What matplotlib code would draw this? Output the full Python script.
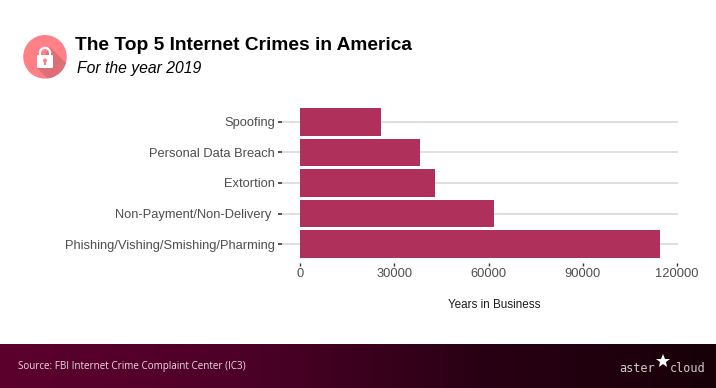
import numpy as np
import matplotlib
matplotlib.use('Agg')
import matplotlib.pyplot as plt
from matplotlib.colors import LinearSegmentedColormap
from matplotlib.patches import Circle, Polygon, Rectangle, Wedge, FancyBboxPatch

crimes = ['Phishing/Vishing/Smishing/Pharming', 'Non-Payment/Non-Delivery ', 'Extortion',
          'Personal Data Breach', 'Spoofing']
counts = [114702, 61832, 43101, 38218, 25789]
xticks = [0, 30000, 60000, 90000, 120000]

W, H = 716, 388
plt.rcParams['font.family'] = ['Liberation Sans', 'DejaVu Sans']
fig = plt.figure(figsize=(W / 100, H / 100), dpi=100, facecolor='white')

# background layer in pixel coords (y down)
bg = fig.add_axes([0, 0, 1, 1])
bg.set_xlim(0, W)
bg.set_ylim(H, 0)
bg.axis('off')

# footer gradient
cmap = LinearSegmentedColormap.from_list('foot', ['#5c002e', '#4e0028', '#2a0014', '#170008'])
bg.imshow(np.linspace(0, 1, 256).reshape(1, -1), cmap=cmap, aspect='auto',
          extent=[0, W, 388, 344], zorder=1)
bg.set_xlim(0, W)
bg.set_ylim(H, 0)
bg.text(18, 366, 'Source: FBI Internet Crime Complaint Center (IC3)', color='#e8dce2',
        fontsize=7.13, family=['Open Sans', 'DejaVu Sans'], va='center', ha='left', zorder=3)
bg.text(637.5, 369, 'aster', color='#d0ccce', fontsize=8.6, family='DejaVu Sans Mono',
        va='center', ha='center', zorder=3)
bg.text(687.5, 369, 'cloud', color='#d0ccce', fontsize=8.6, family='DejaVu Sans Mono',
        va='center', ha='center', zorder=3)
bg.plot([663], [361], marker='*', ms=10.5, color='white', mew=0, zorder=3)

# lock icon
circle = Circle((45, 56.8), 21.8, color='#ff8087', zorder=2, lw=0)
bg.add_patch(circle)
shadow = Polygon([(50, 47), (72, 69), (72, 86), (55, 86), (37, 68)],
                 color='#de6f76', zorder=3, lw=0)
bg.add_patch(shadow)
shadow.set_clip_path(circle)
bg.add_patch(Wedge((45, 53), 6.3, 180, 360, width=2.4, color='white', zorder=4, lw=0))
bg.add_patch(Rectangle((38.7, 53), 2.4, 3, color='white', zorder=4, lw=0))
bg.add_patch(Rectangle((48.9, 53), 2.4, 3, color='white', zorder=4, lw=0))
bg.add_patch(FancyBboxPatch((37, 55), 16, 13, boxstyle='round,pad=0,rounding_size=1.2',
                            color='white', zorder=4, lw=0))
bg.add_patch(Circle((45, 60.5), 2, color='#ff8087', zorder=5, lw=0))
bg.add_patch(Rectangle((44.2, 61), 1.6, 4, color='#ff8087', zorder=5, lw=0))

bg.text(75, 45.5, 'The Top 5 Internet Crimes in America', fontsize=13.75, weight='bold',
        color='black', va='center', ha='left')
bg.text(77, 68.5, 'For the year 2019', fontsize=11.35, style='italic', color='black',
        va='center', ha='left')

# bar chart: axes start left of zero, so the grid runs past the bars to the ticks
left, right, top, bottom = 282, 678, 102.5, 262.5
ax = fig.add_axes([left / W, 1 - bottom / H, (right - left) / W, (bottom - top) / H])
ax.patch.set_alpha(0)
ypos = np.arange(len(crimes))
ax.barh(ypos, counts, height=0.9, color='#b0305c', zorder=3)
ax.set_xlim(-5730, 120300)
ax.set_ylim(-0.6, 4.63)
ax.set_yticks(ypos, crimes)
ax.set_xticks(xticks, [str(v) for v in xticks])
ax.grid(axis='y', color='#dcdcdc', lw=1.3, zorder=1)
ax.grid(axis='x', visible=False)
for s in ax.spines.values():
    s.set_visible(False)
ax.tick_params(axis='y', length=2.9, width=1.2, color='#333333', labelcolor='#4d4d4d',
               labelsize=9.28, pad=2.2)
ax.tick_params(axis='x', length=2.4, width=1, color='#333333', labelcolor='#4d4d4d',
               labelsize=9.3, pad=1.6)
bg.text(494, 305, 'Years in Business', fontsize=8.35, color='#1a1a1a', va='center', ha='center')

fig.savefig('out.png', dpi=100)
